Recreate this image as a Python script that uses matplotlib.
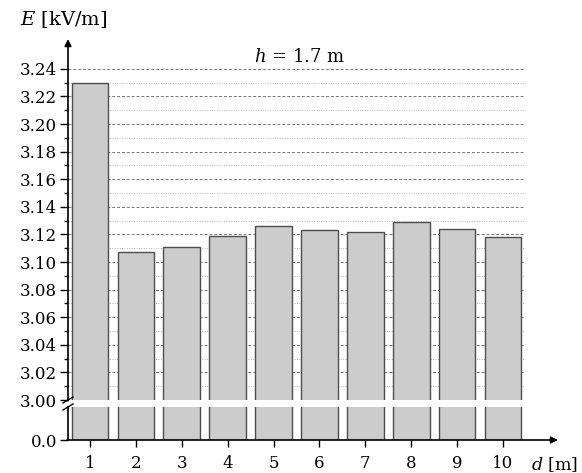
import matplotlib
matplotlib.use('Agg')
import matplotlib.pyplot as plt
from matplotlib.ticker import FixedLocator

plt.rcParams['font.family'] = 'DejaVu Serif'
plt.rcParams['mathtext.fontset'] = 'dejavuserif'

distances = [1, 2, 3, 4, 5, 6, 7, 8, 9, 10]
field = [3.230, 3.107, 3.111, 3.119, 3.126, 3.123, 3.1215, 3.129, 3.124, 3.118]
yticks = [3.00, 3.02, 3.04, 3.06, 3.08, 3.10, 3.12, 3.14, 3.16, 3.18, 3.20, 3.22, 3.24]
yminor = [3.01, 3.03, 3.05, 3.07, 3.09, 3.11, 3.13, 3.15, 3.17, 3.19, 3.21, 3.23]

W, H = 582, 473
fig = plt.figure(figsize=(W / 100, H / 100), dpi=100)

left, right = 68 / W, 525 / W
ax = fig.add_axes([left, 1 - 400 / H, right - left, (400 - 39) / H])
axb = fig.add_axes([left, 1 - 440 / H, right - left, 33 / H])

face = '#cccccc'
edge = '#4d4d4d'
# bars start below the visible range so the edge at the break is clipped
base = 2.9
ax.bar(distances, [v - base for v in field], bottom=base, width=0.8, color=face,
       edgecolor=edge, linewidth=1.0, zorder=3)
axb.bar(distances, [2.0] * len(distances), width=0.8, color=face, edgecolor=edge,
        linewidth=1.0, zorder=3)

xlim = (0.52, 10.48)
ax.set_xlim(*xlim)
axb.set_xlim(*xlim)
ax.set_ylim(3.0, 3.2616)
axb.set_ylim(0, 1)

# top axes: y ticks and grid
ax.yaxis.set_major_locator(FixedLocator(yticks))
ax.yaxis.set_minor_locator(FixedLocator(yminor))
ax.set_yticklabels(['%.2f' % v for v in yticks])
ax.tick_params(axis='y', which='major', direction='out', length=6, width=1, labelsize=12, pad=2)
ax.tick_params(axis='y', which='minor', direction='out', length=3, width=1)
ax.set_xticks([])
ax.grid(axis='y', which='major', color='#777777', linestyle=(0, (3, 2)), linewidth=0.7, zorder=0)
ax.grid(axis='y', which='minor', color='#bbbbbb', linestyle=(0, (1, 1.5)), linewidth=0.7, zorder=0)
for s in ['top', 'right', 'bottom', 'left']:
    ax.spines[s].set_visible(False)
ax.annotate('', xy=(0, 1), xytext=(0, -0.002), xycoords='axes fraction',
            arrowprops=dict(arrowstyle='-|>', color='black', lw=1.2,
                            mutation_scale=10, shrinkA=0, shrinkB=0))

# bottom axes
axb.set_yticks([0])
axb.set_yticklabels(['0.0'])
axb.tick_params(axis='y', direction='out', length=6, width=1, labelsize=12, pad=2)
axb.set_xticks(distances)
axb.set_xticklabels([str(d) for d in distances])
axb.tick_params(axis='x', direction='out', length=5, width=1, labelsize=12, pad=6)
for s in ['top', 'right', 'bottom']:
    axb.spines[s].set_visible(False)
axb.spines['left'].set_linewidth(1.2)
axb.annotate('', xy=((558 - 68) / (525 - 68), 0), xytext=(-0.002, 0), xycoords='axes fraction',
             arrowprops=dict(arrowstyle='-|>', color='black', lw=1.2,
                             mutation_scale=10, shrinkA=0, shrinkB=0))

# break marks
for yb in (400, 407):
    fig.add_artist(plt.Line2D([63 / W, 73 / W], [1 - (yb + 3) / H, 1 - (yb - 3) / H],
                              color='black', lw=1.0))

fig.text(20 / W, 1 - 20 / H, r'$E$ [kV/m]', fontsize=14, ha='left', va='center')
fig.text(578 / W, 1 - 465 / H, r'$d$ [m]', fontsize=12.5, ha='right', va='center')
fig.text(300 / W, 1 - 57 / H, r'$h$ = 1.7 m', fontsize=13, ha='center', va='center')

fig.savefig('out.png', dpi=100)
